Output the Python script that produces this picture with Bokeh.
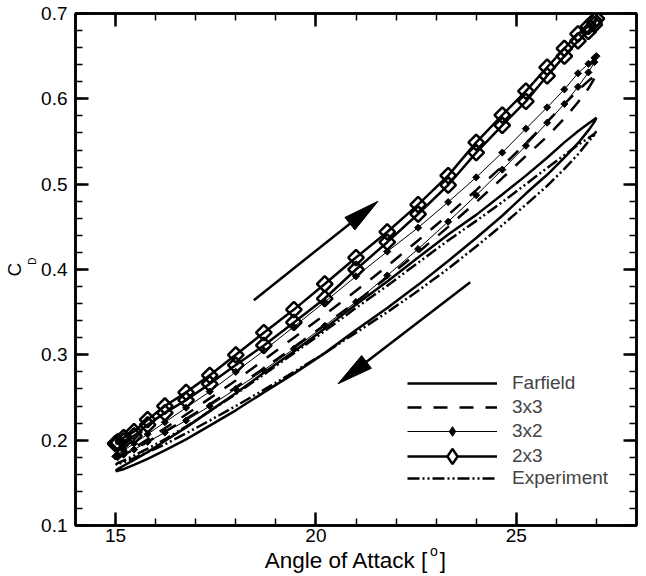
import math
from bokeh.plotting import figure
from bokeh.models import (Range1d, LinearAxis, SingleIntervalTicker, FixedTicker, Arrow,
                          Legend, LegendItem)
from bokeh.embed import file_html
from bokeh.resources import INLINE

# ---- data ----
alpha = [15.00, 15.05, 15.20, 15.46, 15.80, 16.23, 16.76, 17.35, 18.00, 18.70, 19.45,
         20.22, 21.00, 21.78, 22.55, 23.30, 24.00, 24.65, 25.24, 25.77, 26.20, 26.54,
         26.80, 26.95, 27.00]

# upstroke (alpha increasing) and downstroke (listed by increasing alpha)
far_up = [0.164, 0.166, 0.170, 0.177, 0.186, 0.199, 0.215, 0.234, 0.255, 0.279, 0.304,
          0.331, 0.359, 0.386, 0.414, 0.441, 0.464, 0.488, 0.510, 0.531, 0.549, 0.562,
          0.571, 0.576, 0.578]
far_dn = [0.164, 0.164, 0.166, 0.171, 0.178, 0.188, 0.201, 0.217, 0.235, 0.256, 0.278,
          0.302, 0.329, 0.355, 0.382, 0.410, 0.437, 0.463, 0.489, 0.511, 0.531, 0.548,
          0.563, 0.573, 0.578]

g33_up = [0.178, 0.180, 0.184, 0.191, 0.201, 0.214, 0.230, 0.249, 0.270, 0.294, 0.320,
          0.347, 0.375, 0.404, 0.434, 0.464, 0.493, 0.521, 0.548, 0.573, 0.594, 0.610,
          0.621, 0.627, 0.630]
g33_dn = [0.178, 0.179, 0.183, 0.189, 0.198, 0.210, 0.225, 0.242, 0.262, 0.284, 0.309,
          0.335, 0.362, 0.391, 0.420, 0.450, 0.479, 0.507, 0.533, 0.556, 0.577, 0.596,
          0.612, 0.624, 0.630]

g32_up = [0.181, 0.183, 0.188, 0.196, 0.207, 0.221, 0.238, 0.257, 0.280, 0.305, 0.333,
          0.362, 0.392, 0.421, 0.449, 0.479, 0.508, 0.537, 0.565, 0.590, 0.611, 0.630,
          0.641, 0.648, 0.650]
g32_dn = [0.181, 0.180, 0.183, 0.189, 0.198, 0.209, 0.223, 0.240, 0.260, 0.282, 0.307,
          0.334, 0.362, 0.393, 0.424, 0.456, 0.487, 0.517, 0.545, 0.572, 0.594, 0.614,
          0.631, 0.643, 0.650]

g23_up = [0.196, 0.198, 0.203, 0.210, 0.224, 0.240, 0.256, 0.276, 0.300, 0.326, 0.353,
          0.383, 0.414, 0.444, 0.476, 0.510, 0.549, 0.581, 0.609, 0.637, 0.659, 0.676,
          0.685, 0.691, 0.694]
g23_dn = [0.196, 0.196, 0.199, 0.205, 0.218, 0.232, 0.247, 0.266, 0.288, 0.311, 0.338,
          0.366, 0.400, 0.432, 0.465, 0.499, 0.537, 0.569, 0.597, 0.627, 0.650, 0.668,
          0.679, 0.687, 0.694]

exp_up = [0.171, 0.173, 0.176, 0.182, 0.190, 0.201, 0.216, 0.234, 0.254, 0.277, 0.302,
          0.328, 0.355, 0.381, 0.408, 0.434, 0.457, 0.479, 0.500, 0.519, 0.534, 0.546,
          0.554, 0.559, 0.562]
exp_dn = [0.171, 0.172, 0.174, 0.179, 0.186, 0.195, 0.208, 0.223, 0.240, 0.259, 0.280,
          0.302, 0.326, 0.350, 0.375, 0.401, 0.427, 0.452, 0.476, 0.498, 0.518, 0.535,
          0.550, 0.558, 0.562]

labels = ["Farfield", "3x3", "3x2", "2x3", "Experiment"]
x_title = "Angle of Attack ["
x_title_sup = "o"
y_title = "C"
y_title_sub = "D"

# axis ticks
x_ticks = [15, 20, 25]
y_ticks = [0.1, 0.2, 0.3, 0.4, 0.5, 0.6, 0.7]

# arrow annotations (data coordinates: start x, start y, tip x, tip y)
arrow_up = (18.45, 0.364, 21.55, 0.480)
arrow_dn = (23.85, 0.385, 20.55, 0.266)

X_RANGE = (14, 28)
Y_RANGE = (0.1, 0.7)
FRAME_W, FRAME_H = 561, 512

FONT = "Liberation Sans"
NB = "\u00a0"


def loop(up, dn):
    xs = alpha + alpha[::-1][1:]
    ys = up + dn[::-1][1:]
    return xs, ys


def minor(ticks, n):
    step = (ticks[1] - ticks[0]) / n
    lo, hi = (X_RANGE if ticks is x_ticks else Y_RANGE)
    out, v, k = [], lo, 0
    while lo + k * step <= hi + 1e-9:
        out.append(round(lo + k * step, 6))
        k += 1
    return out


p = figure(width=646, height=576, x_range=Range1d(*X_RANGE), y_range=Range1d(*Y_RANGE),
           output_backend="svg", toolbar_location=None,
           min_border_left=75, min_border_right=10, min_border_top=13, min_border_bottom=51)
p.xgrid.visible = False
p.ygrid.visible = False
p.outline_line_color = "black"
p.outline_line_width = 2.5
p.background_fill_color = "white"
p.border_fill_color = "white"


def style_ticks(ax):
    ax.axis_line_width = 2.5
    ax.major_tick_in = 13
    ax.major_tick_out = 0
    ax.minor_tick_in = 7
    ax.minor_tick_out = 0
    ax.major_tick_line_width = 2.5
    ax.minor_tick_line_width = 1.5


def xticker():
    return FixedTicker(ticks=x_ticks, minor_ticks=minor(x_ticks, 5))


def yticker():
    return FixedTicker(ticks=y_ticks, minor_ticks=minor(y_ticks, 5))


# main axes (with tick labels, and the small sub/superscript as axis label)
xa = p.xaxis[0]
ya = p.yaxis[0]
xa.ticker = xticker()
ya.ticker = yticker()
for ax in (xa, ya):
    style_ticks(ax)
    ax.major_label_text_font = FONT
    ax.major_label_text_font_size = "19px"
    ax.major_label_text_color = "black"
    ax.axis_label_text_font = FONT
    ax.axis_label_text_font_style = "normal"
    ax.axis_label_text_color = "black"
xa.major_label_standoff = 3
ya.major_label_standoff = 8

xa.axis_label = NB * 40 + x_title_sup
xa.axis_label_text_font_size = "14px"
xa.axis_label_standoff = -2
ya.axis_label = NB * 6 + y_title_sub
ya.axis_label_text_font_size = "10px"
ya.axis_label_standoff = 0

# outer label-only axes carrying the main titles
xa2 = LinearAxis(ticker=FixedTicker(ticks=[], minor_ticks=[]), axis_line_color=None,
                 major_tick_in=0, major_tick_out=0, minor_tick_in=0, minor_tick_out=0,
                 major_label_standoff=0,
                 axis_label=x_title + NB + NB + "]", axis_label_text_font=FONT,
                 axis_label_text_font_size="22.5px", axis_label_text_font_style="normal",
                 axis_label_text_color="black", axis_label_standoff=-14)
ya2 = LinearAxis(ticker=FixedTicker(ticks=[], minor_ticks=[]), axis_line_color=None,
                 major_tick_in=0, major_tick_out=0, minor_tick_in=0, minor_tick_out=0,
                 major_label_standoff=0,
                 axis_label=y_title, axis_label_text_font=FONT,
                 axis_label_text_font_size="19px", axis_label_text_font_style="normal",
                 axis_label_text_color="black", axis_label_standoff=0)
p.add_layout(xa2, "below")
p.add_layout(ya2, "left")

# mirrored tick-only axes
top = LinearAxis(ticker=xticker())
right = LinearAxis(ticker=yticker())
for ax in (top, right):
    style_ticks(ax)
    ax.major_label_text_color = None
    ax.major_label_text_font_size = "1px"
    ax.major_label_standoff = 0
p.add_layout(top, "above")
p.add_layout(right, "right")

# series
xs, ys = loop(far_up, far_dn)
r_far = p.line(xs, ys, line_color="black", line_width=2.5)

xs, ys = loop(g33_up, g33_dn)
r_33 = p.line(xs, ys, line_color="black", line_width=2.5, line_dash="14 12")

xs, ys = loop(g32_up, g32_dn)
r_32 = p.line(xs, ys, line_color="black", line_width=1)
p.scatter(xs, ys, marker="square", angle=0.785398, size=5,
          fill_color="black", line_color="black")
# same points as diamonds, hidden: used only for the legend key
k_32 = p.scatter(xs, ys, marker="diamond", fill_color="black", line_color="black",
                 visible=False)

xs, ys = loop(g23_up, g23_dn)
r_23 = p.line(xs, ys, line_color="black", line_width=2.5)
p.scatter(xs, ys, marker="square", angle=0.785398, size=11,
          fill_alpha=0, line_color="black", line_width=2.5)
k_23 = p.scatter(xs, ys, marker="diamond", fill_color="white", line_color="black",
                 line_width=2.5, visible=False)

xs, ys = loop(exp_up, exp_dn)
r_exp = p.line(xs, ys, line_color="black", line_width=2.5, line_dash="12 3 2 3 2 3")

# arrows: shaft as an Arrow annotation, long narrow head as a patch computed in pixel space
SX = FRAME_W / (X_RANGE[1] - X_RANGE[0])
SY = FRAME_H / (Y_RANGE[1] - Y_RANGE[0])
HEAD_LEN, HEAD_HALF = 36, 8
for (x0, y0, x1, y1) in (arrow_up, arrow_dn):
    X0, Y0, X1, Y1 = x0 * SX, y0 * SY, x1 * SX, y1 * SY
    d = math.hypot(X1 - X0, Y1 - Y0)
    ux, uy = (X1 - X0) / d, (Y1 - Y0) / d
    bx, by = X1 - HEAD_LEN * ux, Y1 - HEAD_LEN * uy
    hx = [X1, bx - HEAD_HALF * uy, bx + HEAD_HALF * uy]
    hy = [Y1, by + HEAD_HALF * ux, by - HEAD_HALF * ux]
    p.add_layout(Arrow(end=None, x_start=x0, y_start=y0,
                       x_end=(bx + 4 * ux) / SX, y_end=(by + 4 * uy) / SY,
                       line_color="black", line_width=2.5))
    p.patch([v / SX for v in hx], [v / SY for v in hy], fill_color="black",
            line_color="black", line_width=1)


def make_legend(items, loc, gh):
    lg = Legend(items=items, location=loc)
    lg.glyph_width = 90
    lg.glyph_height = gh
    lg.label_height = gh
    lg.spacing = 0
    lg.padding = 0
    lg.margin = 0
    lg.label_standoff = 15
    lg.label_text_font = FONT
    lg.label_text_font_size = "19px"
    lg.border_line_color = None
    lg.background_fill_alpha = 0
    lg.inactive_fill_alpha = 0
    p.add_layout(lg)


make_legend([LegendItem(label=labels[0], renderers=[r_far]),
             LegendItem(label=labels[1], renderers=[r_33]),
             LegendItem(label=labels[2], renderers=[r_32, k_32])], (332, 82), 24)
make_legend([LegendItem(label=labels[3], renderers=[r_23, k_23])], (332, 50), 38)
make_legend([LegendItem(label=labels[4], renderers=[r_exp])], (332, 35), 24)

open("out.html", "w").write(file_html(p, INLINE))
